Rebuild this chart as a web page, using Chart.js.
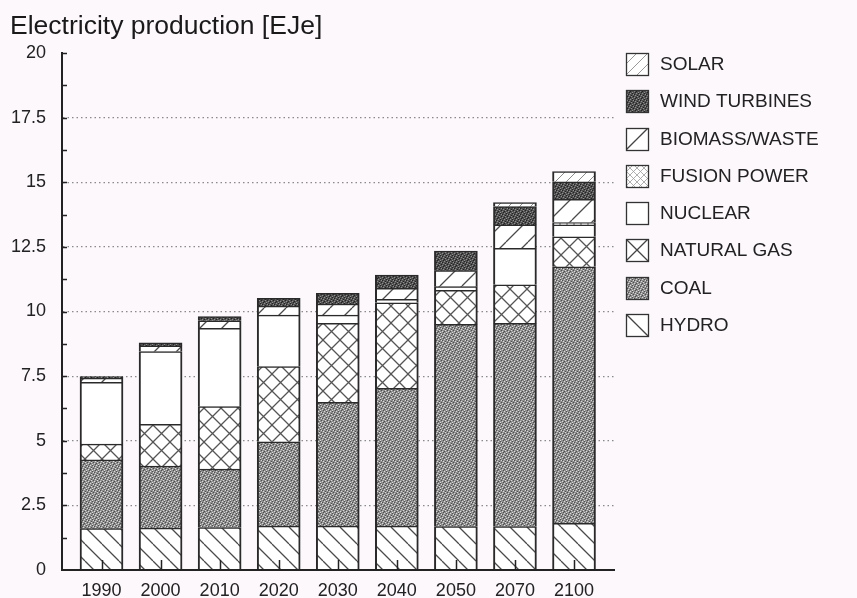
<!DOCTYPE html>
<html><head><meta charset="utf-8">
<script src="https://cdn.jsdelivr.net/npm/chart.js@4.4.0/dist/chart.umd.min.js"></script>
<style>html,body{margin:0;padding:0;background:#fcf8fc;}canvas{display:block;}</style>
</head><body>
<canvas id="c" width="857" height="598"></canvas>
<script>
// ---- data (EJe) ----
const years = ['1990','2000','2010','2020','2030','2040','2050','2070','2100'];
const hydro      = [1.60, 1.62, 1.64, 1.70, 1.70, 1.70, 1.68, 1.68, 1.81];
const coal       = [2.66, 2.40, 2.26, 3.26, 4.79, 5.33, 7.82, 7.86, 9.92];
const naturalGas = [0.61, 1.62, 2.42, 2.91, 3.05, 3.31, 1.32, 1.49, 1.16];
const nuclear    = [2.39, 2.81, 3.03, 1.99, 0.32, 0.13, 0.14, 1.41, 0.46];
const fusion     = [0, 0, 0, 0, 0, 0, 0, 0, 0.09];
const biomass    = [0.16, 0.22, 0.29, 0.35, 0.43, 0.43, 0.62, 0.91, 0.90];
const wind       = [0.06, 0.12, 0.16, 0.30, 0.41, 0.51, 0.76, 0.71, 0.68];
const solar      = [0, 0, 0, 0, 0, 0, 0, 0.15, 0.39];
const seriesNames = ['HYDRO','COAL','NATURAL GAS','NUCLEAR','FUSION POWER','BIOMASS/WASTE','WIND TURBINES','SOLAR'];
const yTicks = [0, 2.5, 5, 7.5, 10, 12.5, 15, 17.5, 20];
const titleText = 'Electricity production [EJe]';

const FONT = '"Liberation Sans", Arial, Helvetica, sans-serif';
const BG = '#fcf8fc';
const canvas = document.getElementById('c');
const mainCtx = canvas.getContext('2d');

function makeTile(size, draw) {
  const t = document.createElement('canvas');
  t.width = t.height = size;
  const g = t.getContext('2d');
  draw(g, size);
  return mainCtx.createPattern(t, 'repeat');
}
function hatch(size, dirs, color, lw) {
  return makeTile(size, (g, s) => {
    g.fillStyle = '#ffffff'; g.fillRect(0, 0, s, s);
    g.strokeStyle = color; g.lineWidth = lw; g.beginPath();
    for (const k of [-1, 0, 1]) {
      if (dirs.includes('\\')) { g.moveTo(k * s, 0); g.lineTo(k * s + s, s); }
      if (dirs.includes('/')) { g.moveTo(k * s, s); g.lineTo(k * s + s, 0); }
    }
    g.stroke();
  });
}
function stipple(map, colors) {
  const n = map.length;
  return makeTile(n, (g) => {
    for (let r = 0; r < n; r++) for (let c = 0; c < n; c++) {
      g.fillStyle = colors[map[r][c]]; g.fillRect(c, r, 1, 1);
    }
  });
}
const stippleMap = ['MLMDMM','DMMMLM','MMLMMD','LMDMMM','MMMLDM','MDMMML'];
const styles = [
  { fill: hatch(17, '\\', '#4a4a4a', 1.3), legend: 'hydro' },
  { fill: stipple(stippleMap, {M:'#8e8e8e', D:'#4e4e4e', L:'#dadada'}), legend: 'fill' },
  { fill: hatch(17, '\\/', '#555555', 1.3), legend: 'gas' },
  { fill: '#ffffff', legend: 'fill' },
  { fill: hatch(7, '\\/', '#9a9a9a', 0.8), legend: 'fill' },
  { fill: hatch(22, '/', '#4a4a4a', 1.3), legend: 'biomass' },
  { fill: stipple(stippleMap, {M:'#505050', D:'#222222', L:'#909090'}), legend: 'fill' },
  { fill: hatch(11, '/', '#8a8a8a', 1.0), legend: 'solar' }
];
const seriesValues = [hydro, coal, naturalGas, nuclear, fusion, biomass, wind, solar];

const datasets = seriesValues.map((vals, si) => ({
  label: seriesNames[si],
  data: vals.map((v, i) => ({ x: i, y: v > 0 ? v : null })),
  backgroundColor: styles[si].fill,
  borderColor: '#2a2a2a',
  borderWidth: { top: 1.5, left: 2, right: 2, bottom: 0 },
  borderSkipped: false,
  barThickness: 43,
  _legend: styles[si].legend
}));

const bgPlugin = {
  id: 'bg',
  beforeDraw(chart) {
    const c = chart.ctx; c.save(); c.fillStyle = BG; c.fillRect(0, 0, chart.width, chart.height); c.restore();
  }
};

const tickPlugin = {
  id: 'innerTicks',
  afterDatasetsDraw(chart) {
    const { ctx, chartArea: { left, bottom }, scales: { x, y } } = chart;
    ctx.save(); ctx.strokeStyle = '#222'; ctx.lineWidth = 1.5; ctx.beginPath();
    for (let i = 1; i < yTicks.length * 2 - 1; i++) {
      const v = yTicks[0] + i * (yTicks[1] - yTicks[0]) / 2;
      const py = Math.round(y.getPixelForValue(v)) + 0.5;
      ctx.moveTo(left, py); ctx.lineTo(left + 5, py);
    }
    years.forEach((_, i) => {
      const px = Math.round(x.getPixelForValue(i)) + 0.5;
      ctx.moveTo(px, bottom); ctx.lineTo(px, bottom - 10);
    });
    ctx.stroke(); ctx.restore();
  }
};

const legendPlugin = {
  id: 'patternLegend',
  afterDraw(chart) {
    const ctx = chart.ctx;
    const ds = chart.data.datasets.slice().reverse();
    ds.forEach((d, row) => {
      const cy = 64 + row * 37.25;
      const x = 626, y = Math.round(cy - 11), w = 22, h = 22;
      ctx.save();
      ctx.beginPath(); ctx.rect(x, y, w, h); ctx.clip();
      const kind = d._legend;
      ctx.fillStyle = (kind === 'fill') ? d.backgroundColor : '#ffffff';
      ctx.fillRect(x, y, w, h);
      ctx.lineWidth = 1.3;
      ctx.strokeStyle = '#444';
      ctx.beginPath();
      if (kind === 'hydro' || kind === 'gas') { ctx.moveTo(x, y); ctx.lineTo(x + w, y + h); }
      if (kind === 'biomass' || kind === 'gas') { ctx.moveTo(x, y + h); ctx.lineTo(x + w, y); }
      ctx.stroke();
      if (kind === 'solar') {
        ctx.strokeStyle = '#999'; ctx.lineWidth = 1; ctx.beginPath();
        for (const k of [-0.5, 0, 0.5]) { ctx.moveTo(x + k * w, y + h); ctx.lineTo(x + k * w + w, y); }
        ctx.stroke();
      }
      ctx.restore();
      ctx.save();
      ctx.strokeStyle = '#333'; ctx.lineWidth = 1.3;
      ctx.strokeRect(x + 0.5, y + 0.5, w, h);
      ctx.fillStyle = '#222'; ctx.font = '19px ' + FONT; ctx.textBaseline = 'middle'; ctx.textAlign = 'left';
      ctx.fillText(d.label, 660, cy + 1);
      ctx.restore();
    });
  }
};

Chart.defaults.font.family = FONT;
new Chart(canvas, {
  type: 'bar',
  data: { labels: years, datasets },
  options: {
    responsive: false,
    animation: false,
    devicePixelRatio: 1,
    layout: { padding: { left: 10, right: 243, top: 0, bottom: 0 } },
    plugins: {
      legend: { display: false },
      tooltip: { enabled: false },
      title: {
        display: true, text: titleText, align: 'start', color: '#1a1a1a',
        font: { size: 26.5, weight: 'normal', family: FONT },
        padding: { top: 11, bottom: 10.2 }
      }
    },
    scales: {
      x: {
        type: 'linear', stacked: true, min: -0.669, max: 8.677, offset: false,
        afterFit: (s) => { s.height = 28; },
        afterBuildTicks: (s) => { s.ticks = years.map((_, i) => ({ value: i })); },
        grid: { display: false, drawTicks: false, offset: false },
        border: { display: true, color: '#222', width: 2, z: 1 },
        ticks: { callback: (v) => years[v], font: { size: 18 }, color: '#222', padding: 10, maxRotation: 0, autoSkip: false }
      },
      y: {
        type: 'linear', stacked: true, min: 0, max: 20,
        afterFit: (s) => { s.width = 52; },
        afterBuildTicks: (s) => { s.ticks = yTicks.map(v => ({ value: v })); },
        grid: {
          drawTicks: false, lineWidth: 1.2,
          color: (c) => (c.tick && c.tick.value > 0 && c.tick.value < 20) ? '#8a8a8a' : 'rgba(0,0,0,0)'
        },
        border: { display: true, color: '#222', width: 2, dash: [1.5, 3] },
        ticks: { callback: (v) => String(v), font: { size: 18 }, color: '#222', padding: 16 }
      }
    }
  },
  plugins: [bgPlugin, tickPlugin, legendPlugin]
});
</script>
</body></html>
